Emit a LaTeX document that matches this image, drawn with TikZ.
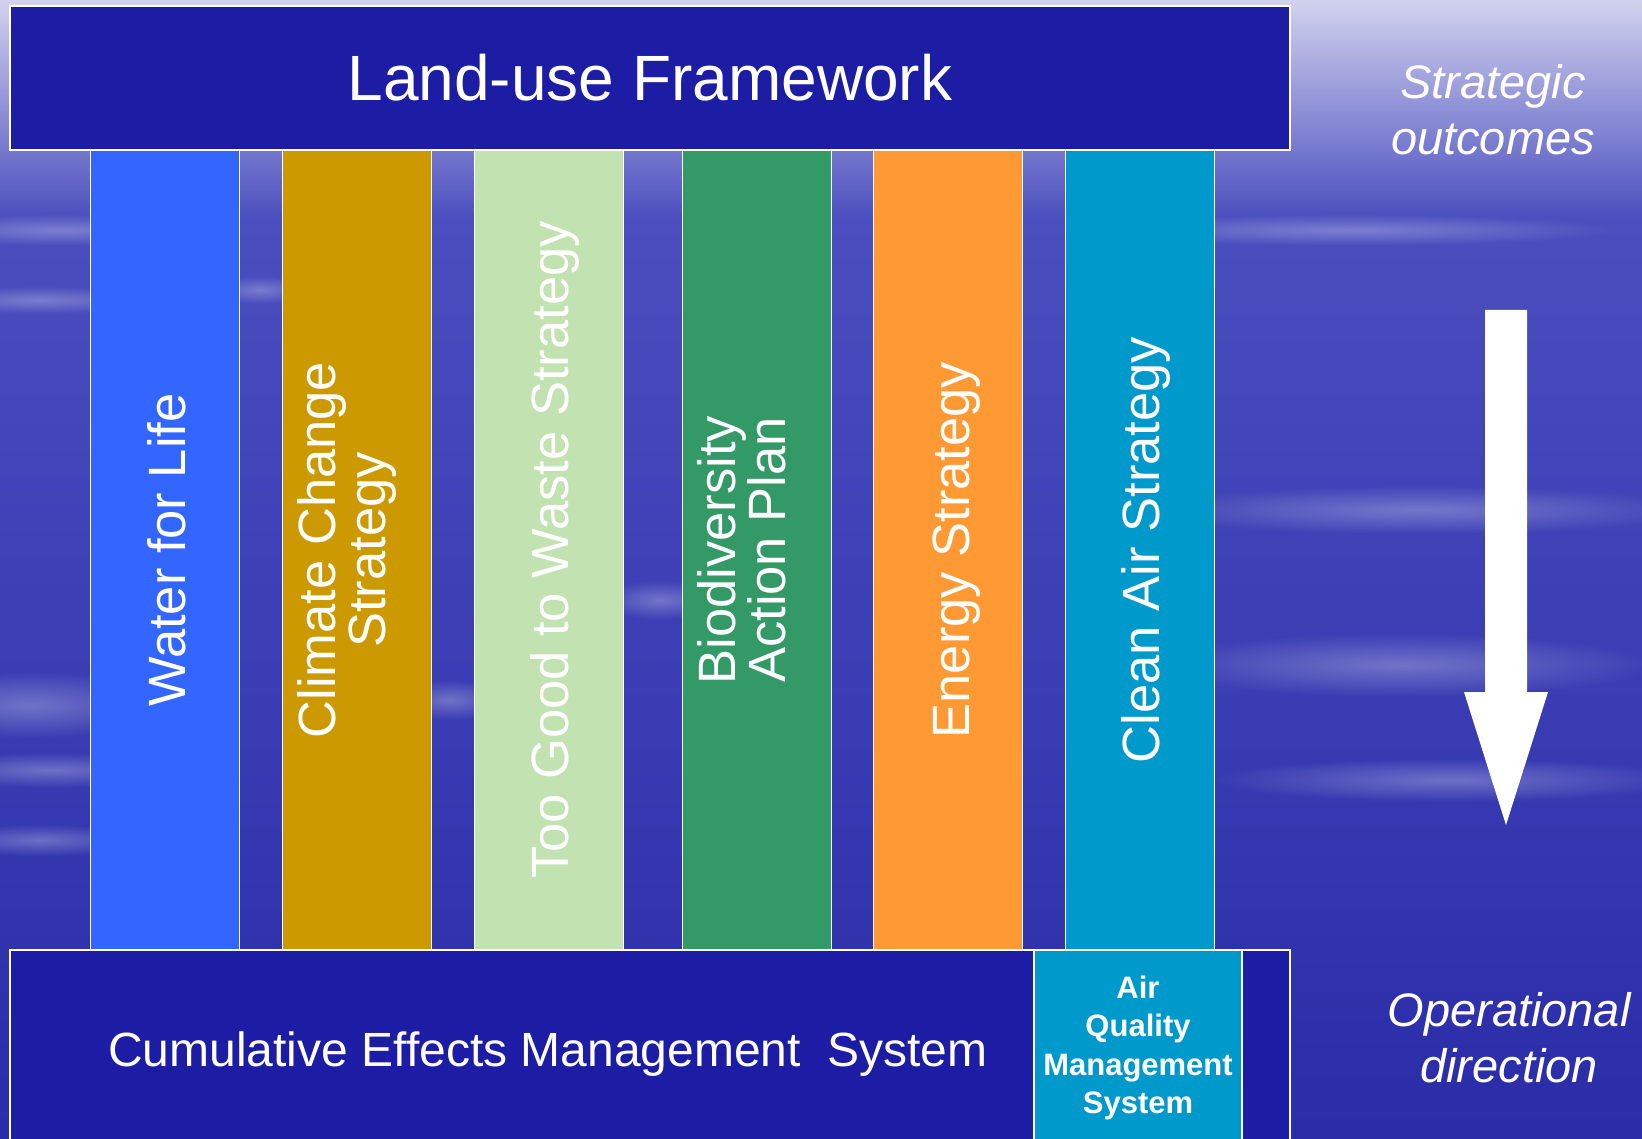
\documentclass[tikz,border=0pt]{standalone}
\usepackage{fontspec}
\setmainfont{Liberation Sans}
\usetikzlibrary{fadings}

\definecolor{bannerblue}{HTML}{1C1CA4}
\definecolor{waterblue}{HTML}{3366FF}
\definecolor{climategold}{HTML}{CC9900}
\definecolor{wastegreen}{HTML}{C2E2B2}
\definecolor{biogreen}{HTML}{339966}
\definecolor{energyorange}{HTML}{FF9933}
\definecolor{aircyan}{HTML}{0099CC}
\definecolor{skytop}{HTML}{D2D2EE}
\definecolor{skymid}{HTML}{4A4EBE}
\definecolor{skylow}{HTML}{2A2CA8}

\tikzfading[name=softstreak, inner color=transparent!20, outer color=transparent!100]

\tikzset{
  box/.style={draw=white, line width=2pt, fill=bannerblue, inner sep=0pt, text=white},
  column/.style={draw=white, line width=1.5pt, minimum width=149pt,
    minimum height=800pt, inner sep=0pt},
  colname/.style={rotate=90, text=white, align=center, inner sep=0pt,
    font=\fontsize{52.5}{50}\selectfont},
  side/.style={text=white, align=center, font=\fontsize{47}{56}\selectfont\itshape},
  streak/.style={white, path fading=softstreak, fill opacity=0.35}
}

\begin{document}
\begin{tikzpicture}[x=1pt, y=-1pt]
        % Sky background
        \useasboundingbox (0,0) rectangle (1642,1139);
        \shade[top color=skytop, bottom color=skymid] (0,0) rectangle (1642,220);
        \shade[top color=skymid, bottom color=skylow] (0,220) rectangle (1642,1139);

        % Cloud streaks
        \fill[streak] (60,230) ellipse (160 and 16);
        \fill[streak] (40,300) ellipse (130 and 14);
        \fill[streak] (30,705) ellipse (150 and 34);
        \fill[streak] (50,770) ellipse (140 and 18);
        \fill[streak] (40,840) ellipse (110 and 16);
        \fill[streak] (1420,510) ellipse (280 and 24);
        \fill[streak] (1400,665) ellipse (260 and 32);
        \fill[streak] (1450,780) ellipse (240 and 22);
        \fill[streak] (1350,230) ellipse (270 and 16);
        \fill[streak] (660,600) ellipse (60 and 20);
        \fill[streak] (450,700) ellipse (60 and 20);
        \fill[streak] (260,290) ellipse (50 and 14);

        % Strategy columns
        \node[column, fill=waterblue] (water) at (165,550) {};
        \node[column, fill=climategold] (climate) at (357,550) {};
        \node[column, fill=wastegreen] (waste) at (549,550) {};
        \node[column, fill=biogreen] (biodiv) at (757,550) {};
        \node[column, fill=energyorange] (energy) at (948,550) {};
        \node[column, fill=aircyan] (cleanair) at (1140,550) {};

        % Column names
        \node[colname] (water name) at ([xshift=2pt]water.center) {Water for Life};
        \node[colname] (climate name) at ([xshift=-10pt]climate.center) {Climate Change\\Strategy};
        \node[colname] (waste name) at ([xshift=6pt]waste.center) {Too Good to Waste Strategy};
        \node[colname] (biodiv name) at ([xshift=-15pt]biodiv.center) {Biodiversity\\Action Plan};
        \node[colname] (energy name) at ([xshift=9pt]energy.center) {Energy Strategy};
        \node[colname] (cleanair name) at ([xshift=6pt]cleanair.center) {Clean Air Strategy};

        % Land-use framework banner
        \node[box, minimum width=1280pt, minimum height=144pt,
          font=\fontsize{64}{70}\selectfont] (luf) at (650,78) {Land-use Framework};

        % Cumulative effects section
        \draw[box] (10,950) rectangle (1290,1146);
        \node[text=white, font=\fontsize{48}{50}\selectfont] (cems) at (548,1054)
          {Cumulative Effects Management\ \ System};

        % Air quality section
        \node[box, fill=aircyan, minimum width=208pt, minimum height=196pt,
          align=center, font=\fontsize{31}{38.5}\selectfont\bfseries] (aqms) at (1138,1048)
          {Air\\Quality\\Management\\System};

        % Side labels
        \node[side] (strat) at (1493,110) {Strategic\\outcomes};
        \node[side] (oper) at (1509,1038) {Operational\\direction};

        % Downward arrow
        \fill[white] (1485,310) -- (1527,310) -- (1527,692) -- (1548,692)
          -- (1506,825) -- (1464,692) -- (1485,692) -- cycle;
    \end{tikzpicture}
\end{document}
